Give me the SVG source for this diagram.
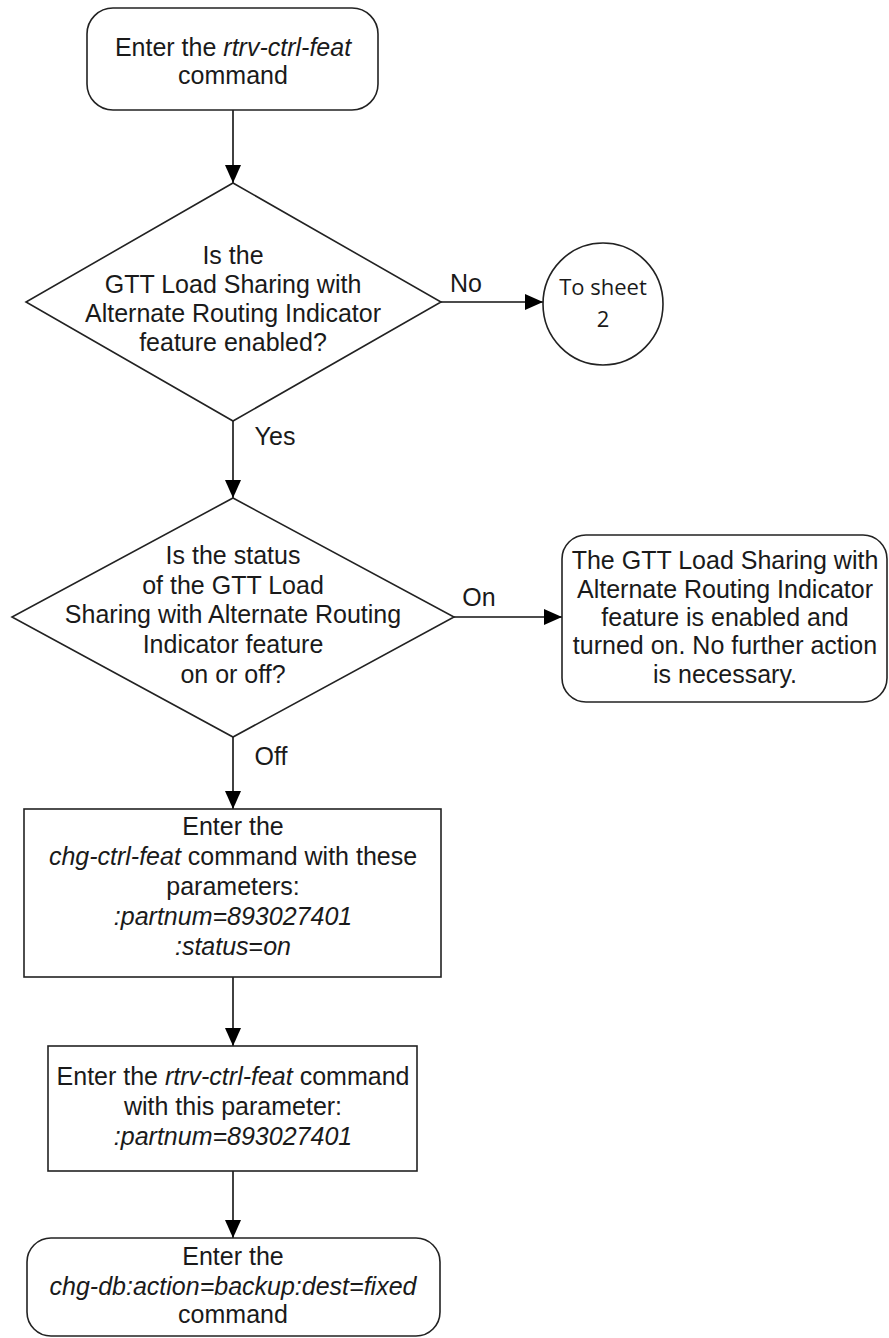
<svg xmlns="http://www.w3.org/2000/svg" width="889" height="1338" viewBox="0 0 889 1338">
<defs>
<marker id="arrow" markerUnits="userSpaceOnUse" markerWidth="20" markerHeight="18" refX="18" refY="8" orient="auto">
<path d="M0,0 L18,8 L0,16 Z" fill="#000"/>
</marker>
<style>
.shape{fill:#fff;stroke:#222;stroke-width:1.6}
.conn{fill:none;stroke:#111;stroke-width:1.6}
text{font-family:"Liberation Sans",Arial,sans-serif;font-size:25px;fill:#1a1a1a;text-anchor:middle}
.i{font-style:italic}
.cal{font-family:"Open Sans","Noto Sans",sans-serif;font-size:22px}
</style>
</defs>
<g id="connectors">
<line class="conn" x1="233" y1="110" x2="233" y2="183" marker-end="url(#arrow)"/>
<line class="conn" x1="441" y1="302" x2="543" y2="302" marker-end="url(#arrow)"/>
<line class="conn" x1="233" y1="421" x2="233" y2="498" marker-end="url(#arrow)"/>
<line class="conn" x1="454" y1="617" x2="562" y2="617" marker-end="url(#arrow)"/>
<line class="conn" x1="233" y1="737" x2="233" y2="809" marker-end="url(#arrow)"/>
<line class="conn" x1="233" y1="977" x2="233" y2="1046" marker-end="url(#arrow)"/>
<line class="conn" x1="233" y1="1171" x2="233" y2="1238" marker-end="url(#arrow)"/>
<text x="466" y="292">No</text>
<text x="275" y="445">Yes</text>
<text x="479" y="606">On</text>
<text x="271" y="765">Off</text>
</g>
<g id="start">
<rect class="shape" x="87" y="8" width="291" height="102" rx="26"/>
<text x="233" y="56">Enter the <tspan class="i">rtrv-ctrl-feat</tspan></text>
<text x="233" y="84">command</text>
</g>
<g id="decision1">
<polygon class="shape" points="233,183 441,302 233,421 26,302"/>
<text x="233" y="264">Is the</text>
<text x="233" y="293">GTT Load Sharing with</text>
<text x="233" y="322">Alternate Routing Indicator</text>
<text x="233" y="351">feature enabled?</text>
</g>
<g id="sheet2">
<ellipse class="shape" cx="603" cy="304" rx="60" ry="61"/>
<text class="cal" x="603" y="295">To sheet</text>
<text class="cal" x="603" y="327">2</text>
</g>
<g id="decision2">
<polygon class="shape" points="233,498 454,617 233,737 12,617"/>
<text x="233" y="564">Is the status</text>
<text x="233" y="594">of the GTT Load</text>
<text x="233" y="623">Sharing with Alternate Routing</text>
<text x="233" y="653">Indicator feature</text>
<text x="233" y="683">on or off?</text>
</g>
<g id="done">
<rect class="shape" x="562" y="535" width="325" height="167" rx="24"/>
<text x="725" y="569">The GTT Load Sharing with</text>
<text x="725" y="598">Alternate Routing Indicator</text>
<text x="725" y="626">feature is enabled and</text>
<text x="725" y="654">turned on. No further action</text>
<text x="725" y="683">is necessary.</text>
</g>
<g id="chgctrl">
<rect class="shape" x="24" y="809" width="417" height="168"/>
<text x="233" y="835">Enter the</text>
<text x="233" y="865"><tspan class="i">chg-ctrl-feat</tspan> command with these</text>
<text x="233" y="895">parameters:</text>
<text x="233" y="925" class="i">:partnum=893027401</text>
<text x="233" y="955"><tspan class="i">:status</tspan>=<tspan class="i">on</tspan></text>
</g>
<g id="rtrvctrl">
<rect class="shape" x="48" y="1046" width="369" height="125"/>
<text x="233" y="1085">Enter the <tspan class="i">rtrv-ctrl-feat</tspan> command</text>
<text x="233" y="1115">with this parameter:</text>
<text x="233" y="1145" class="i">:partnum=893027401</text>
</g>
<g id="backup">
<rect class="shape" x="27" y="1238" width="413" height="98" rx="24"/>
<text x="233" y="1265">Enter the</text>
<text x="233" y="1295" class="i">chg-db:action=backup:dest=fixed</text>
<text x="233" y="1323">command</text>
</g>
</svg>
